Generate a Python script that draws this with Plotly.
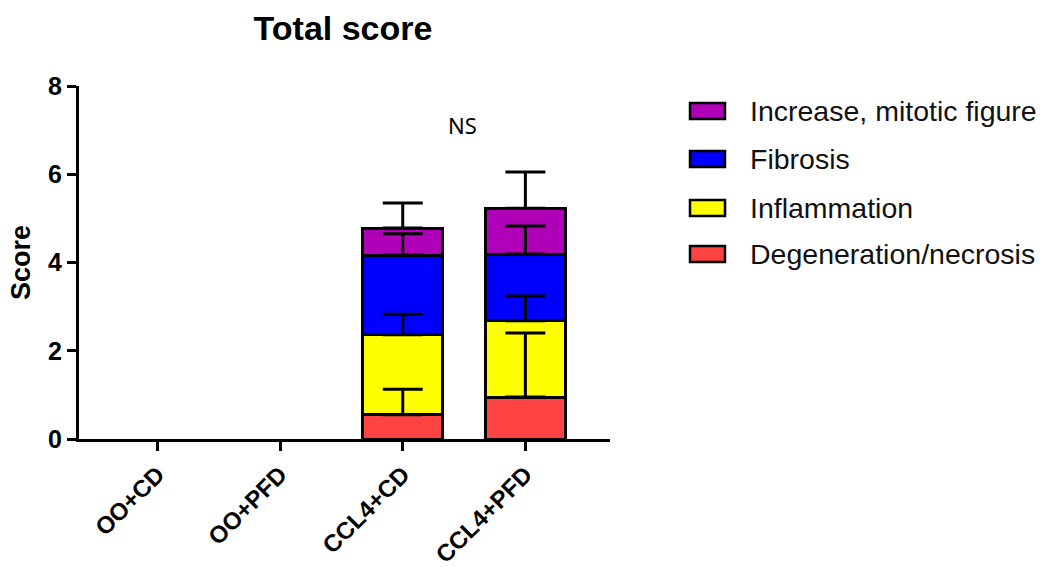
import plotly.graph_objects as go

categories = ["OO+CD", "OO+PFD", "CCL4+CD", "CCL4+PFD"]
series_names = ["Degeneration/necrosis", "Inflammation", "Fibrosis", "Increase, mitotic figure"]
colors = ["#FF4242", "#FFFF00", "#0000FF", "#B000B8"]

degeneration = [0, 0, 0.55, 0.95]
inflammation = [0, 0, 1.81, 1.73]
fibrosis = [0, 0, 1.81, 1.51]
mitotic = [0, 0, 0.61, 1.04]

degeneration_err = [None, None, 0.58, 1.45]
inflammation_err = [None, None, 0.47, 0.56]
fibrosis_err = [None, None, 0.48, 0.64]
mitotic_err = [None, None, 0.57, 0.82]

values = [degeneration, inflammation, fibrosis, mitotic]
errors = [degeneration_err, inflammation_err, fibrosis_err, mitotic_err]

FONT = "Liberation Sans, Arial"

fig = go.Figure()
for name, vals, col in zip(series_names, values, colors):
    fig.add_trace(go.Bar(
        x=categories, y=vals, name=name, width=0.65,
        marker=dict(color=col, line=dict(color="black",
                                         width=[3 if v > 0 else 0 for v in vals])),
        showlegend=False,
    ))

# error bars drawn on top (upper only), at cumulative segment tops
cum = [0.0] * len(categories)
for vals, errs in zip(values, errors):
    cum = [c + v for c, v in zip(cum, vals)]
    ys = [c if e is not None else None for c, e in zip(cum, errs)]
    fig.add_trace(go.Scatter(
        x=categories, y=ys, mode="markers",
        marker=dict(size=1, opacity=0),
        error_y=dict(type="data", symmetric=False,
                     array=[e if e is not None else 0 for e in errs],
                     arrayminus=[0] * len(errs),
                     color="black", thickness=3, width=20),
        showlegend=False, hoverinfo="skip",
    ))

# manual legend
legend_rows_px = [111, 159, 208, 254]
plot_left, plot_w = 79, 531
plot_bottom, plot_h = 439, 353
def px_x(p):
    return (p - plot_left) / plot_w
def px_y(p):
    return (plot_bottom - p) / plot_h

legend_order = list(zip(series_names, colors))[::-1]
for (name, col), cy in zip(legend_order, legend_rows_px):
    fig.add_shape(type="rect", xref="paper", yref="paper",
                  x0=px_x(690), x1=px_x(725), y0=px_y(cy + 8), y1=px_y(cy - 8),
                  fillcolor=col, line=dict(color="black", width=2.5))
    fig.add_annotation(xref="paper", yref="paper", x=px_x(748), y=px_y(cy),
                       text=name, showarrow=False, xanchor="left", yanchor="middle",
                       font=dict(family=FONT, size=28.5, color="#111"))

fig.add_annotation(x=2.49, y=7.12, xref="x", yref="y", text="NS", showarrow=False,
                   font=dict(family="Noto Sans", size=22, color="black"))

fig.update_layout(
    width=1047, height=567,
    margin=dict(l=79, r=437, t=86, b=128),
    plot_bgcolor="white", paper_bgcolor="white",
    barmode="stack",
    title=dict(text="Total score", x=343 / 1047, xanchor="center",
               y=1 - 28 / 567, yanchor="middle",
               font=dict(family=FONT, size=34, color="black", weight="bold")),
    font=dict(family=FONT, color="black"),
)
fig.update_xaxes(
    range=[-0.64, 3.69], showgrid=False, zeroline=False, automargin=False,
    showline=True, linecolor="black", linewidth=3,
    ticks="outside", ticklen=9, tickwidth=3, tickcolor="black",
    tickangle=-45, tickfont=dict(size=24, family=FONT, weight="bold"),
)
fig.update_yaxes(
    range=[0, 8], tickvals=[0, 2, 4, 6, 8], showgrid=False, zeroline=False,
    automargin=False,
    showline=True, linecolor="black", linewidth=3,
    ticks="outside", ticklen=9, tickwidth=3, tickcolor="black",
    tickfont=dict(size=25, family=FONT, weight="bold"),
    title=dict(text="Score", font=dict(size=27, family=FONT, weight="bold"), standoff=10),
)

fig.write_html("out.html", config={"displayModeBar": False},
               post_script="document.body.style.margin='0';")
